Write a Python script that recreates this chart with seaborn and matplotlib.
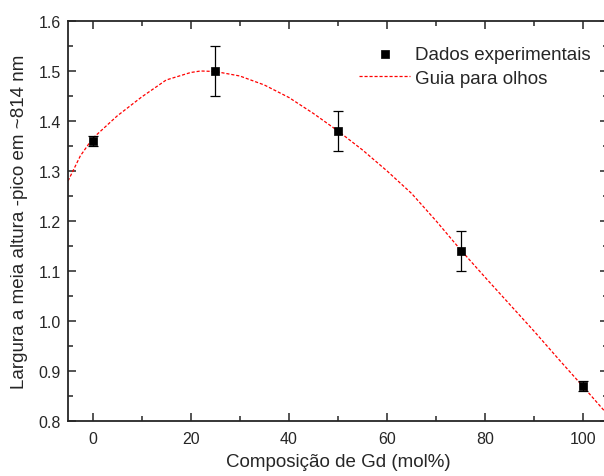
import matplotlib
matplotlib.use('Agg')
import matplotlib.pyplot as plt
import seaborn as sns
import pandas as pd
from matplotlib.ticker import MultipleLocator

# pontos experimentais
comp_gd = [0, 25, 50, 75, 100]
largura = [1.36, 1.50, 1.38, 1.14, 0.87]
erro = [0.01, 0.05, 0.04, 0.04, 0.01]

# guia para os olhos
guia_x = [-5, -2.5, 0, 5, 10, 15, 20, 22, 25, 30, 35, 40, 45, 50, 55, 60, 65, 70, 75, 80, 85, 90, 95, 100, 105]
guia_y = [1.28, 1.33, 1.365, 1.41, 1.448, 1.482, 1.497, 1.50, 1.499, 1.49, 1.472, 1.447, 1.415, 1.38,
          1.342, 1.30, 1.255, 1.20, 1.142, 1.087, 1.033, 0.979, 0.923, 0.868, 0.812]

def set_style():
    sns.set_style('ticks')
    plt.rcParams['font.family'] = ['Liberation Sans', 'DejaVu Sans']
    plt.rcParams['axes.unicode_minus'] = False

set_style()
df_pts = pd.DataFrame({'x': comp_gd, 'y': largura, 'err': erro})
df_guia = pd.DataFrame({'x': guia_x, 'y': guia_y})

fig = plt.figure(figsize=(6.04, 4.77), dpi=100)
ax = fig.add_axes([0.1126, 0.1153, 0.894, 0.8386])

sns.lineplot(x='x', y='y', data=df_guia, ax=ax, color='#ff0000', linewidth=0.9,
             linestyle=(0, (2.5, 1.5)), label='Guia para olhos', zorder=2)
ax.errorbar(df_pts['x'], df_pts['y'], yerr=df_pts['err'], fmt='none', ecolor='black',
            elinewidth=0.9, capsize=3.5, capthick=0.9, zorder=3)
sns.scatterplot(x='x', y='y', data=df_pts, ax=ax, marker='s', s=32, color='black',
                edgecolor='black', linewidth=0.5, label='Dados experimentais', zorder=4)

ax.set_xlim(-5, 105)
ax.set_ylim(0.8, 1.6)
ax.xaxis.set_major_locator(MultipleLocator(20))
ax.xaxis.set_minor_locator(MultipleLocator(10))
ax.yaxis.set_major_locator(MultipleLocator(0.1))
ax.yaxis.set_minor_locator(MultipleLocator(0.05))
ax.yaxis.set_major_formatter(matplotlib.ticker.FormatStrFormatter('%.1f'))
ax.tick_params(which='both', direction='in', top=True, right=True, labelsize=11.5, width=1.1)
ax.tick_params(which='major', length=6)
ax.tick_params(which='minor', length=3.5)
ax.tick_params(axis='x', which='major', pad=7)
ax.tick_params(axis='y', which='major', pad=5)
for sp in ax.spines.values():
    sp.set_linewidth(1.3)
    sp.set_visible(True)

ax.set_xlabel('Composição de Gd (mol%)', fontsize=13.5, labelpad=5)
ax.set_ylabel('Largura a meia altura -pico em ~814 nm', fontsize=13.5, labelpad=8)

h, l = ax.get_legend_handles_labels()
order = [l.index('Dados experimentais'), l.index('Guia para olhos')]
ax.legend([h[i] for i in order], [l[i] for i in order], frameon=False, fontsize=13.5,
          loc='upper left', bbox_to_anchor=(0.515, 0.97), handlelength=2.7, handletextpad=0.3,
          labelspacing=0.35, borderpad=0.2)

plt.savefig('out.png', dpi=100)
